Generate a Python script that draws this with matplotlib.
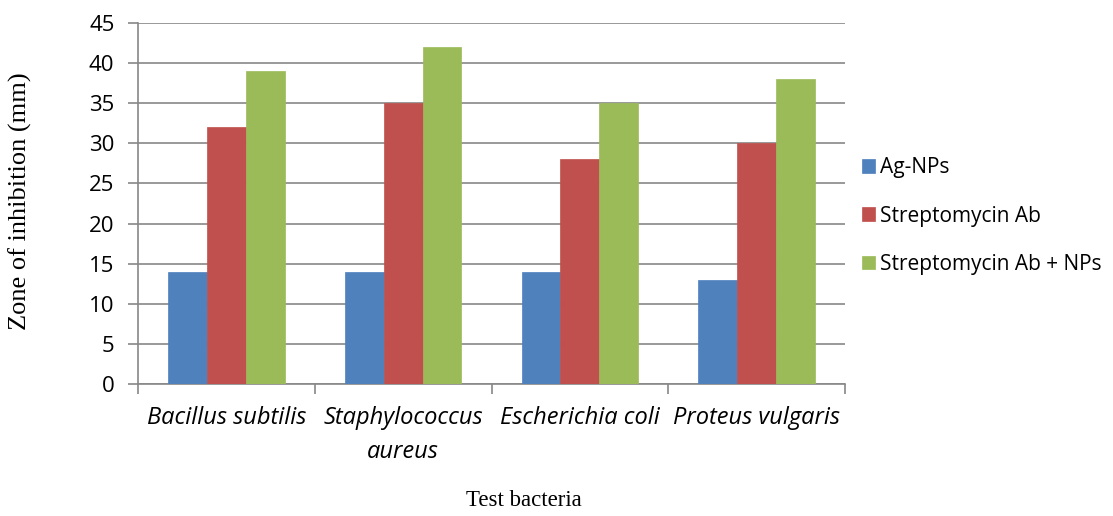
import matplotlib
matplotlib.use("Agg")
import matplotlib.pyplot as plt
import numpy as np

categories = ["Bacillus subtilis", "Staphylococcus\naureus", "Escherichia coli", "Proteus vulgaris"]
series_names = ["Ag-NPs", "Streptomycin Ab", "Streptomycin Ab + NPs"]
ag_nps = [14, 14, 14, 13]
strep = [32, 35, 28, 30]
strep_nps = [39, 42, 35, 38]
colors = ["#4F81BD", "#C0504D", "#9BBB59"]
yticks = list(range(0, 50, 5))

fig = plt.figure(figsize=(11.13, 5.16), dpi=100)
ax = fig.add_axes([138/1113, 1-384/516, (845-138)/1113, (384-23)/516])

x = np.arange(len(categories))
w = 0.22
for i, (vals, name, c) in enumerate(zip([ag_nps, strep, strep_nps], series_names, colors)):
    ax.bar(x + (i-1)*w, vals, width=w, color=c, label=name, zorder=3,
           edgecolor=c, linewidth=0.5)

ax.set_xlim(-0.5, len(categories)-0.5)
ax.set_ylim(0, 45)
ax.set_yticks(yticks)
ax.set_yticklabels([str(t) for t in yticks], fontsize=16, family="Open Sans")
ax.yaxis.grid(True, color="#888888", linewidth=1.2, zorder=0)
ax.set_axisbelow(True)

ax.set_xticks(x)
ax.set_xticklabels(categories, fontsize=17, family="Open Sans", style="italic",
                   linespacing=1.55)
ax.tick_params(axis="x", length=0, pad=16)
ax.set_xticks(np.arange(-0.5, len(categories), 1.0), minor=True)
ax.tick_params(axis="x", which="minor", length=7, color="#888888", width=1.2)
ax.tick_params(axis="y", length=7, color="#888888", width=1.2, pad=10)

for s in ["top", "right"]:
    ax.spines[s].set_visible(False)
for s in ["left", "bottom"]:
    ax.spines[s].set_color("#888888")
    ax.spines[s].set_linewidth(1.2)

fig.text(20/1113, 1-201/516, "Zone of inhibition (mm)", rotation=90, ha="center",
         va="center", fontsize=19, family="Liberation Serif")
fig.text(524/1113, 1-500/516, "Test bacteria", ha="center", va="center",
         fontsize=16.5, family="Liberation Serif")

leg = ax.legend(loc="center left", bbox_to_anchor=(862/1113, 1-216/516),
                bbox_transform=fig.transFigure, frameon=False, borderpad=0,
                borderaxespad=0,
                prop={"family": "Open Sans", "size": 15},
                handlelength=0.62, handleheight=0.62, handletextpad=0.25,
                labelspacing=1.3)

fig.savefig("out.png", dpi=100)
